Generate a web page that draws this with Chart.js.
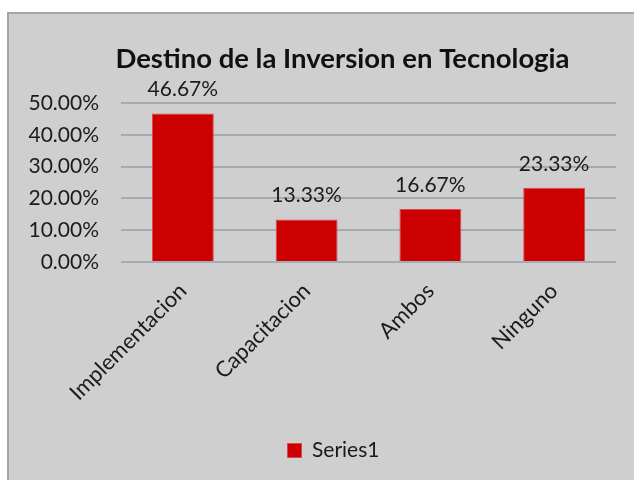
<!DOCTYPE html>
<html lang="es">
<head>
  <meta charset="UTF-8" />
  <title>Destino de la Inversion en Tecnologia</title>
  <script src="https://cdn.jsdelivr.net/npm/chart.js"></script>
  <style>
    html, body { margin: 0; padding: 0; background: #fff; overflow: hidden; }
    .frame {
      position: absolute; left: 7px; top: 12px;
      width: 720px; height: 480px;
      background: #cfcfcf;
      border: 2px solid #9ea6b0;
    }
    canvas { display: block; }
  </style>
</head>
<body>
  <div class="frame">
    <canvas id="barChart" width="666" height="466"></canvas>
  </div>

  <script>
    const categories = ['Implementacion', 'Capacitacion', 'Ambos', 'Ninguno'];
    const seriesValues = [46.67, 13.33, 16.67, 23.33];
    const yTicks = [0, 10, 20, 30, 40, 50];

    const FONT = 'Lato, "Open Sans", sans-serif';
    const TEXT = '#1b1b1b';

    // labels above each bar
    const barLabels = {
      id: 'barLabels',
      afterDatasetsDraw(chart) {
        const ctx = chart.ctx;
        const meta = chart.getDatasetMeta(0);
        ctx.save();
        ctx.font = '21px ' + FONT;
        ctx.fillStyle = TEXT;
        ctx.textAlign = 'center';
        ctx.textBaseline = 'middle';
        meta.data.forEach((bar, i) => {
          ctx.fillText(seriesValues[i].toFixed(2) + '%', bar.x, bar.y - 24);
        });
        ctx.restore();
      }
    };

    // the original chart is wider than the crop, so title/legend sit off-centre
    const nudgeBoxes = {
      id: 'nudgeBoxes',
      afterLayout(chart) {
        const t = chart.titleBlock;
        if (t) { t.left += 30; t.right += 30; }
        const l = chart.legend;
        if (l) { l.left += 21; l.right += 21; }
      }
    };

    const ctx = document.getElementById('barChart').getContext('2d');
    new Chart(ctx, {
      type: 'bar',
      data: {
        labels: categories,
        datasets: [{
          label: 'Series1',
          data: seriesValues,
          backgroundColor: '#cc0000',
          borderColor: '#d9484d',
          borderWidth: 1,
          categoryPercentage: 1,
          barPercentage: 0.5
        }]
      },
      options: {
        responsive: false,
        animation: false,
        devicePixelRatio: 1,
        layout: { padding: { left: 0, right: 59, top: 0, bottom: 9 } },
        plugins: {
          title: {
            display: true,
            text: 'Destino de la Inversion en Tecnologia',
            color: '#111',
            font: { family: FONT, size: 27.5, weight: 'bold' },
            padding: { top: 29, bottom: 27 }
          },
          legend: {
            position: 'bottom',
            labels: {
              color: TEXT,
              font: { family: FONT, size: 21 },
              boxWidth: 14,
              boxHeight: 14,
              padding: 10
            }
          },
          tooltip: { enabled: false }
        },
        scales: {
          x: {
            grid: { display: false },
            border: { display: false },
            ticks: {
              color: TEXT,
              font: { family: FONT, size: 22 },
              minRotation: 45,
              maxRotation: 45,
              padding: 8
            },
            afterFit(scale) { scale.height = 168; }
          },
          y: {
            min: 0,
            max: 50,
            border: { display: false },
            grid: { color: '#a3abb6', lineWidth: 2, drawTicks: false },
            afterBuildTicks(scale) { scale.ticks = yTicks.map(v => ({ value: v })); },
            ticks: {
              color: TEXT,
              font: { family: FONT, size: 21 },
              padding: 22,
              callback: v => v.toFixed(2) + '%'
            },
            afterFit(scale) { scale.width = 112; }
          }
        }
      },
      plugins: [barLabels, nudgeBoxes]
    });
  </script>
</body>
</html>
